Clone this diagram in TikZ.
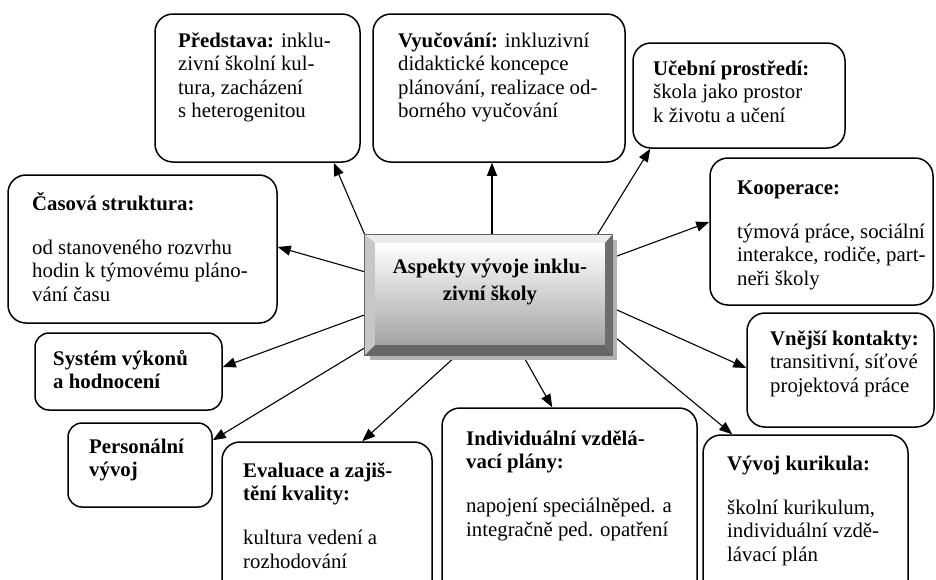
\documentclass[tikz,border=0pt]{standalone}
\usepackage{fontspec}
\setmainfont{Liberation Serif}
\usetikzlibrary{arrows.meta,calc}
\newcommand{\blk}[1]{\vtop{\baselineskip=23.5pt\lineskiplimit=-50pt\lineskip=0pt\relax #1}}
\newcommand{\gap}{\vskip20.5pt}
\begin{document}
\begin{tikzpicture}[x=1pt,y=-1pt,
  box/.style={draw=black, line width=1.5pt, rounded corners=18pt, inner sep=0pt, fill=white},
  sbox/.style={box, rounded corners=14pt},
  txt/.style={anchor=base west, inner sep=0pt, font=\fontsize{20.8}{23.5}\selectfont},
  arr/.style={line width=1.1pt, -{Triangle[length=13pt,width=10pt]}}]
\useasboundingbox (0,0) rectangle (936,579);
\clip (0,0) rectangle (936,579);

% boxes
\node[box, minimum width=205pt, minimum height=148pt] (p) at (257.5,88) {};
\node[box, minimum width=252pt, minimum height=148pt] (v) at (499,88) {};
\node[box, minimum width=212pt, minimum height=105pt] (u) at (739,95.5) {};
\node[box, minimum width=223pt, minimum height=147pt] (k) at (821.5,231.5) {};
\node[box, minimum width=269pt, minimum height=148pt] (cs) at (142.5,249) {};
\node[sbox, minimum width=187pt, minimum height=77pt] (s) at (128.5,371.5) {};
\node[sbox, minimum width=144pt, minimum height=84pt] (pe) at (140,465) {};
\node[box, minimum width=210pt, minimum height=158pt] (e) at (327,521) {};
\node[box, minimum width=255pt, minimum height=192pt] (i) at (569.5,504) {};
\node[box, minimum width=205pt, minimum height=165pt] (vk) at (805.5,517.5) {};
\node[box, minimum width=187pt, minimum height=114pt] (vn) at (840.5,370) {};
\node[minimum width=247pt, minimum height=120pt, inner sep=0pt] (c) at (488.5,295) {};

% texts
\node[txt] (tp) at (178,47) {\blk{\hbox{\textbf{Představa:} inklu-}\hbox{zivní školní kul-}\hbox{tura, zacházení}\hbox{s heterogenitou}}};
\node[txt] (tv) at (398,47) {\blk{\hbox{\textbf{Vyučování:} inkluzivní}\hbox{didaktické koncepce}\hbox{plánování, realizace od-}\hbox{borného vyučování}}};
\node[txt] (tu) at (653,75) {\blk{\hbox{\textbf{Učební prostředí:}}\hbox{škola jako prostor}\hbox{k životu a učení}}};
\node[txt] (tk) at (737,194) {\blk{\hbox{\textbf{Kooperace:}}\gap\hbox{týmová práce, sociální}\hbox{interakce, rodiče, part-}\hbox{neři školy}}};
\node[txt] (tcs) at (32,210) {\blk{\hbox{\textbf{Časová struktura:}}\gap\hbox{od stanoveného rozvrhu}\hbox{hodin k týmovému pláno-}\hbox{vání času}}};
\node[txt] (ts) at (53,365) {\blk{\hbox{\textbf{Systém výkonů}}\hbox{\textbf{a hodnocení}}}};
\node[txt] (tpe) at (89,453) {\blk{\hbox{\textbf{Personální}}\hbox{\textbf{vývoj}}}};
\node[txt] (te) at (243,477) {\blk{\hbox{\textbf{Evaluace a zajiš-}}\hbox{\textbf{tění kvality:}}\gap\hbox{kultura vedení a}\hbox{rozhodování}}};
\node[txt] (ti) at (466,445) {\blk{\hbox{\textbf{Individuální vzdělá-}}\hbox{\textbf{vací plány:}}\gap\hbox{napojení speciálněped. a}\hbox{integračně ped. opatření}}};
\node[txt] (tvk) at (727,470) {\blk{\hbox{\textbf{Vývoj kurikula:}}\gap\hbox{školní kurikulum,}\hbox{individuální vzdě-}\hbox{lávací plán}}};
\node[txt] (tvn) at (770,345) {\blk{\hbox{\textbf{Vnější kontakty:}}\hbox{transitivní, síťové}\hbox{projektová práce}}};

% arrows
\draw[arr] (c.north west) -- ([xshift=-27pt]p.south east);
\draw[arr] ([xshift=3.5pt]c.north) -- ([xshift=-7pt]v.south);
\draw[arr] ([xshift=-15pt]c.north east) -- ([xshift=18pt]u.south west);
\draw[arr] ([yshift=-23pt]c.north east) -- ([yshift=9.5pt]k.west);
\draw[arr] ([yshift=-37pt]c.north west) -- ([yshift=2pt]cs.east);
\draw[arr] ([yshift=-80pt]c.north west) -- ([yshift=4.5pt]s.east);
\draw[arr] ([yshift=-113pt]c.north west) -- ([yshift=-18pt]pe.north east);
\draw[arr] ([xshift=92pt]c.south west) -- ([xshift=141pt]e.north west);
\draw[arr] ([xshift=158pt]c.south west) -- ([xshift=111pt]i.north west);
\draw[arr] ([yshift=-73pt]c.north east) -- ([yshift=2pt]vn.west);
\draw[arr] ([yshift=-100pt]c.north east) -- ([xshift=30pt]vk.north west);

% central bevelled box
\fill[black!30] ($(c.north west)+(5,5)$) rectangle ($(c.south east)+(5,5)$);
\shade[top color=white, bottom color=black!36] ($(c.north west)+(10,8)$) rectangle ($(c.south east)+(-7,-10)$);
\fill[black!8] (c.north west) -- (c.north east) -- ($(c.north east)+(-7,8)$) -- ($(c.north west)+(10,8)$) -- cycle;
\fill[black!22] (c.north west) -- ($(c.north west)+(10,8)$) -- ($(c.south west)+(10,-10)$) -- (c.south west) -- cycle;
\fill[black!57] (c.north east) -- (c.south east) -- ($(c.south east)+(-7,-10)$) -- ($(c.north east)+(-7,8)$) -- cycle;
\fill[black!60] (c.south west) -- (c.south east) -- ($(c.south east)+(-7,-10)$) -- ($(c.south west)+(10,-10)$) -- cycle;
\draw[black!60, line width=0.8pt] (c.north west) rectangle (c.south east);
\node[anchor=base, inner sep=0pt, font=\fontsize{20.8}{23.5}\selectfont\bfseries] (ct) at (490,273)
  {\blk{\hbox to 0pt{\hss Aspekty vývoje inklu-\hss}\vskip3.5pt\hbox to 0pt{\hss zivní školy\hss}}};
\end{tikzpicture}
\end{document}
